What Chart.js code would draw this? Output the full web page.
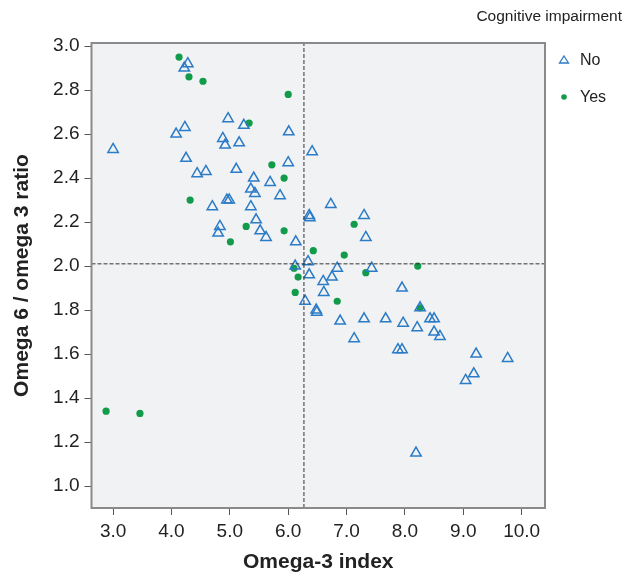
<!DOCTYPE html>
<html>
<head>
<meta charset="utf-8">
<script src="https://cdn.jsdelivr.net/npm/chart.js@4.4.1/dist/chart.umd.min.js"></script>
<style>
  html, body { margin: 0; padding: 0; background: #fff; }
  #wrap { width: 626px; height: 579px; position: relative; }
</style>
</head>
<body>
<div id="wrap"><canvas id="scatter"></canvas></div>
<script>
// Omega-3 index vs omega 6 / omega 3 ratio, by cognitive impairment
const noX = [3.00, 4.28, 4.22, 4.97, 5.24, 4.23, 4.08, 6.01, 4.88, 5.16, 4.92, 6.41, 4.25, 6.00, 5.11,
  4.44, 4.59, 5.41, 5.69, 5.36, 5.43, 5.86, 4.95, 4.99, 4.70, 5.36, 5.45, 4.83, 4.80, 5.52, 5.62,
  6.13, 6.36, 6.37, 6.73, 7.30, 7.33, 6.34, 6.12, 6.84, 7.43, 6.36, 6.75, 6.60, 6.61, 7.95, 6.29,
  6.48, 6.49, 6.89, 7.30, 7.67, 7.13, 7.97, 8.26, 8.21, 8.43, 8.50, 8.50, 8.60, 7.88, 7.95, 9.04,
  9.18, 9.22, 9.76, 8.19];
const noY = [2.53, 2.92, 2.90, 2.67, 2.64, 2.63, 2.60, 2.61, 2.58, 2.56, 2.55, 2.52, 2.49, 2.47, 2.44,
  2.42, 2.43, 2.40, 2.38, 2.35, 2.33, 2.32, 2.30, 2.30, 2.27, 2.27, 2.21, 2.18, 2.15, 2.16, 2.13,
  2.11, 2.23, 2.22, 2.28, 2.23, 2.13, 2.02, 2.00, 1.99, 1.99, 1.96, 1.95, 1.93, 1.88, 1.90, 1.84,
  1.80, 1.79, 1.75, 1.76, 1.76, 1.67, 1.74, 1.81, 1.72, 1.76, 1.76, 1.70, 1.68, 1.62, 1.62, 1.48,
  1.51, 1.60, 1.58, 1.15];
const yesX = [4.13, 4.30, 4.54, 6.00, 5.33, 5.72, 5.93, 4.32, 5.28, 5.01, 5.93, 7.13, 6.43, 6.96,
  6.10, 6.17, 6.12, 7.33, 8.22, 6.84, 8.26, 2.88, 3.46];
const yesY = [2.95, 2.86, 2.84, 2.78, 2.65, 2.46, 2.40, 2.30, 2.18, 2.11, 2.16, 2.19, 2.07, 2.05,
  1.99, 1.95, 1.88, 1.97, 2.00, 1.84, 1.81, 1.34, 1.33];

const xTicks = [3, 4, 5, 6, 7, 8, 9, 10];
const yTicks = [1.0, 1.2, 1.4, 1.6, 1.8, 2.0, 2.2, 2.4, 2.6, 2.8, 3.0];
const xCut = 6.27;
const yCut = 2.01;
const xMin = 2.63, xMax = 10.40;
const yMin = 0.90, yMax = 3.014;

const FONT = "'Liberation Sans', Arial, sans-serif";
const toPoints = (xs, ys) => xs.map((x, i) => ({ x: x, y: ys[i] }));

const plotBg = {
  id: "plotBg",
  beforeDraw(chart) {
    const { ctx, chartArea: a } = chart;
    ctx.save();
    ctx.fillStyle = "#f1f2f4";
    ctx.fillRect(a.left, a.top, a.right - a.left, a.bottom - a.top);
    ctx.restore();
  },
  afterDraw(chart) {
    const { ctx, chartArea: a } = chart;
    ctx.save();
    ctx.strokeStyle = "#8a8a8a";
    ctx.lineWidth = 2;
    ctx.strokeRect(a.left, a.top, a.right - a.left, a.bottom - a.top);

    // legend
    ctx.fillStyle = "#222";
    ctx.font = "15.5px " + FONT;
    ctx.textAlign = "right";
    ctx.textBaseline = "middle";
    ctx.fillText("Cognitive impairment", 622, 17);
    ctx.textAlign = "left";
    ctx.font = "16px " + FONT;
    const items = chart.data.datasets.filter(d => d.legend);
    items.forEach((d, i) => {
      const y = 60 + i * 37;
      ctx.strokeStyle = d.borderColor;
      ctx.lineWidth = 1.3;
      ctx.beginPath();
      if (d.pointStyle === "triangle") {
        ctx.moveTo(564, y - 4);
        ctx.lineTo(568.5, y + 3);
        ctx.lineTo(559.5, y + 3);
        ctx.closePath();
        ctx.stroke();
      } else {
        ctx.arc(564, y, 2.8, 0, Math.PI * 2);
        ctx.fillStyle = d.borderColor;
        ctx.fill();
      }
      ctx.fillStyle = "#222";
      ctx.fillText(d.label, 580, y + 1);
    });
    ctx.restore();
  }
};

new Chart(document.getElementById("scatter"), {
  type: "scatter",
  data: {
    datasets: [
      {
        type: "line",
        label: "cut-x",
        data: [{ x: xCut, y: yMin }, { x: xCut, y: yMax }],
        borderColor: "#333",
        borderWidth: 1,
        borderDash: [4, 2],
        pointRadius: 0,
        fill: false
      },
      {
        type: "line",
        label: "cut-y",
        data: [{ x: xMin, y: yCut }, { x: xMax, y: yCut }],
        borderColor: "#333",
        borderWidth: 1,
        borderDash: [4, 2],
        pointRadius: 0,
        fill: false
      },
      {
        label: "No",
        legend: true,
        data: toPoints(noX, noY),
        pointStyle: "triangle",
        pointRadius: 6,
        borderColor: "#2b7bc6",
        backgroundColor: "rgba(255,255,255,0)",
        borderWidth: 1.5
      },
      {
        label: "Yes",
        legend: true,
        data: toPoints(yesX, yesY),
        pointStyle: "circle",
        pointRadius: 3.6,
        borderColor: "#119b4a",
        backgroundColor: "#119b4a",
        borderWidth: 0
      }
    ]
  },
  options: {
    responsive: true,
    maintainAspectRatio: false,
    animation: false,
    layout: { padding: { top: 43, right: 81, left: 6, bottom: 0 } },
    plugins: {
      legend: { display: false },
      tooltip: { enabled: false }
    },
    scales: {
      x: {
        type: "linear",
        min: xMin,
        max: xMax,
        afterBuildTicks: (s) => { s.ticks = xTicks.map(v => ({ value: v })); },
        afterFit: (s) => { s.height = 71; },
        grid: { drawOnChartArea: false, drawTicks: true, tickLength: 7, color: "#555" },
        border: { display: false },
        ticks: {
          color: "#222",
          font: { size: 19, family: FONT },
          padding: 5,
          maxRotation: 0,
          callback: (v) => v.toFixed(1)
        },
        title: {
          display: true,
          text: "Omega-3 index",
          color: "#222",
          font: { size: 21, weight: "bold", family: FONT },
          padding: { top: 3 }
        }
      },
      y: {
        type: "linear",
        min: yMin,
        max: yMax,
        afterBuildTicks: (s) => { s.ticks = yTicks.map(v => ({ value: v })); },
        afterFit: (s) => { s.width = 85.5; },
        grid: { drawOnChartArea: false, drawTicks: true, tickLength: 7, color: "#555" },
        border: { display: false },
        ticks: {
          color: "#222",
          font: { size: 19, family: FONT },
          padding: 5,
          callback: (v) => v.toFixed(1)
        },
        title: {
          display: true,
          text: "Omega 6 / omega 3 ratio",
          color: "#222",
          font: { size: 21, weight: "bold", family: FONT },
          padding: { bottom: 2 }
        }
      }
    }
  },
  plugins: [plotBg]
});
</script>
</body>
</html>
